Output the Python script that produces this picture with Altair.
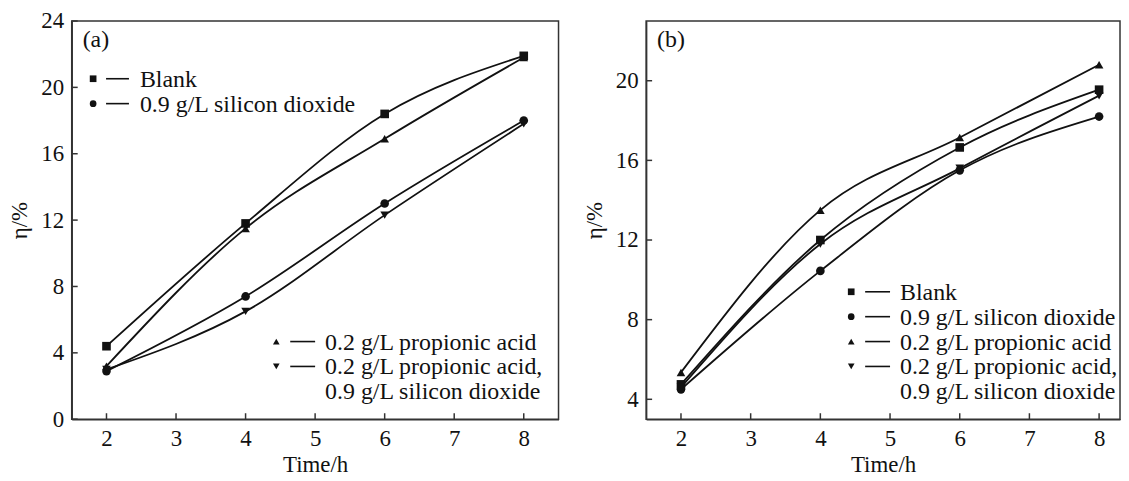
import altair as alt
import pandas as pd

# ---------------- data ----------------
times = [2, 4, 6, 8]
series = [
    "Blank",
    "0.9 g/L silicon dioxide",
    "0.2 g/L propionic acid",
    "0.2 g/L propionic acid, 0.9 g/L silicon dioxide",
]
shapes = ["square", "circle", "triangle-up", "triangle-down"]

# panel (a)
a_blank = [4.4, 11.8, 18.4, 21.9]
a_sio2 = [2.9, 7.4, 13.0, 18.0]
a_prop = [3.2, 11.5, 16.9, 21.8]
a_both = [3.0, 6.5, 12.3, 17.8]

# panel (b)
b_blank = [4.75, 12.0, 16.65, 19.55]
b_sio2 = [4.5, 10.45, 15.5, 18.2]
b_prop = [5.35, 13.5, 17.15, 20.8]
b_both = [4.6, 11.8, 15.6, 19.25]

x_ticks = [2, 3, 4, 5, 6, 7, 8]
a_y_ticks = [0, 4, 8, 12, 16, 20, 24]
b_y_ticks = [4, 8, 12, 16, 20]

legend_lines = [
    "Blank",
    "0.9 g/L silicon dioxide",
    "0.2 g/L propionic acid",
    "0.2 g/L propionic acid,",
    "0.9 g/L silicon dioxide",
]

FONT = "Liberation Serif"
INK = "#111111"
AX = "#333333"
H = 400
LFS = 24


def long_df(vals):
    rows = []
    for s, v in zip(series, vals):
        for t, e in zip(times, v):
            rows.append({"Time": t, "eta": e, "series": s})
    return pd.DataFrame(rows)


def entry(shape, text, y, sx, dx1, dx2, tx):
    d = pd.DataFrame({"label": [text]})
    layers = []
    if shape:
        layers.append(
            alt.Chart(d)
            .mark_point(shape=shape, filled=True, size=45, color=INK, opacity=1)
            .encode(x=alt.value(sx), y=alt.value(y))
        )
        layers.append(
            alt.Chart(d)
            .mark_rule(color=INK, strokeWidth=1.6)
            .encode(x=alt.value(dx1), x2=alt.value(dx2), y=alt.value(y))
        )
    layers.append(
        alt.Chart(d)
        .mark_text(align="left", baseline="middle", font=FONT, fontSize=LFS, color=INK)
        .encode(x=alt.value(tx), y=alt.value(y + 1), text="label:N")
    )
    return layers


def panel(vals, ydomain, yticks, xdomain, width, tag, legend_layers):
    df = long_df(vals)
    xenc = alt.X(
        "Time:Q",
        scale=alt.Scale(domain=xdomain, nice=False, zero=False),
        axis=alt.Axis(values=x_ticks, title="Time/h", titlePadding=4, labelPadding=8),
    )
    yenc = alt.Y(
        "eta:Q",
        scale=alt.Scale(domain=ydomain, nice=False, zero=False),
        axis=alt.Axis(values=yticks, title="η/%", titlePadding=9, labelPadding=8),
    )
    lines = alt.Chart(df).mark_line(
        interpolate="monotone", color=INK, strokeWidth=1.8
    ).encode(x=xenc, y=yenc, detail="series:N")
    pts = alt.Chart(df).mark_point(filled=True, size=75, color=INK, opacity=1).encode(
        x=xenc,
        y=yenc,
        shape=alt.Shape(
            "series:N", scale=alt.Scale(domain=series, range=shapes), legend=None
        ),
    )
    xt = alt.Chart(pd.DataFrame({"Time": x_ticks})).mark_rule(
        color=AX, strokeWidth=1.5
    ).encode(x=xenc, y=alt.value(H - 6), y2=alt.value(H))
    yt = alt.Chart(pd.DataFrame({"eta": yticks})).mark_rule(
        color=AX, strokeWidth=1.5
    ).encode(y=yenc, x=alt.value(0), x2=alt.value(6))
    lab = alt.Chart(pd.DataFrame({"label": [tag]})).mark_text(
        align="left", baseline="middle", font=FONT, fontSize=LFS, color=INK
    ).encode(x=alt.value(11), y=alt.value(19), text="label:N")
    return alt.layer(xt, yt, lines, pts, lab, *legend_layers).properties(
        width=width, height=H
    )


leg_a = (
    entry("square", legend_lines[0], 58, 21.5, 34.5, 57.5, 68.5)
    + entry("circle", legend_lines[1], 83, 21.5, 34.5, 57.5, 68.5)
    + entry("triangle-up", legend_lines[2], 322, 205.5, 219.5, 244.5, 254.5)
    + entry("triangle-down", legend_lines[3], 347, 205.5, 219.5, 244.5, 254.5)
    + entry(None, legend_lines[4], 372, 0, 0, 0, 254.5)
)
leg_b = (
    entry("square", legend_lines[0], 272, 206, 220, 245, 255)
    + entry("circle", legend_lines[1], 297, 206, 220, 245, 255)
    + entry("triangle-up", legend_lines[2], 322, 206, 220, 245, 255)
    + entry("triangle-down", legend_lines[3], 347, 206, 220, 245, 255)
    + entry(None, legend_lines[4], 372, 0, 0, 0, 255)
)

pa = panel([a_blank, a_sio2, a_prop, a_both], [0, 24], a_y_ticks, [1.5, 8.5], 489, "(a)", leg_a)
pb = panel([b_blank, b_sio2, b_prop, b_both], [3, 23], b_y_ticks, [1.5, 8.3], 476, "(b)", leg_b)

chart = (
    alt.hconcat(pa, pb, spacing=23)
    .resolve_scale(x="independent", y="independent", shape="independent")
    .properties(padding={"left": 0, "top": 0, "right": 0, "bottom": 0})
    .configure_axis(
        labelFont=FONT,
        labelFontSize=23,
        titleFont=FONT,
        titleFontSize=23,
        titleFontWeight="normal",
        ticks=False,
        grid=False,
        domainColor=AX,
        domainWidth=1.5,
        labelColor=INK,
        titleColor=INK,
    )
    .configure_view(stroke=AX, strokeWidth=1.5)
)

chart.save("out.html", embed_options={"renderer": "svg", "actions": False})
